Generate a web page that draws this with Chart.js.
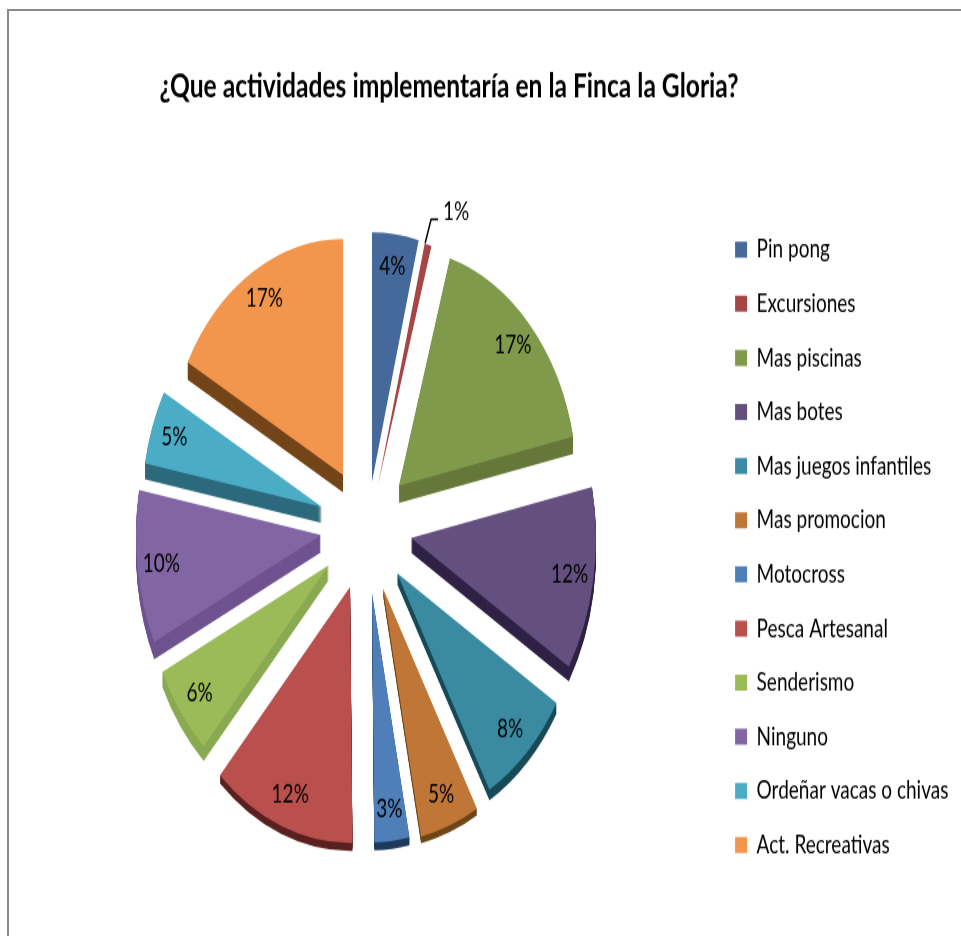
<!DOCTYPE html>
<html><head><meta charset="utf-8">
<script src="https://cdn.jsdelivr.net/npm/chart.js@4/dist/chart.umd.min.js"></script>
<style>
html,body{margin:0;padding:0;background:#fff;overflow:hidden;width:961px;height:936px}
#frame{position:absolute;left:7px;top:9px;width:960px;height:930px;border-top:2px solid #8a8a8a;border-left:2px solid #8a8a8a;box-sizing:border-box}
#stretch{position:absolute;left:0;top:0;width:961px;height:702px;transform:scale(1,1.3333);transform-origin:0 0}
</style></head><body>
<div id="frame"></div>
<div id="stretch"><canvas id="c" width="961" height="702"></canvas></div>
<script>
const titleText = '¿Que actividades implementaría en la Finca la Gloria?';
const categories = ['Pin pong','Excursiones','Mas piscinas','Mas botes','Mas juegos infantiles','Mas promocion','Motocross','Pesca Artesanal','Senderismo','Ninguno','Ordeñar vacas o chivas','Act. Recreativas'];
const percentages = [4,0.6,17,12,8,5,3,12,6,10,5,17];
const sliceColors = ['#44699a','#a54644','#7f9a4b','#64507f','#3a8ba1','#c07636','#4f7fb9','#b9504e','#9bbb59','#8166a3','#4bacc6','#f2964d'];
const sideColors = ['#34507a','#7c3230','#66783a','#2f2245','#174a56','#6e4618','#1e3a5c','#5a2020','#8aaa52','#6f5390','#2c6a7c','#734519'];
const sideDepths = [0,0,13,11,8,5,6,6,11,13,12,13];
const sliceRadii = [187,187,178,185,187,190,187,192,185,185,180,177];
const explodeX = [6,12,33,45,31,17,6,-16,-37,-45,-44,-23];
const explodeY = [-43,-40.5,-40,-0.75,25.5,37,40.5,36,19.5,-3,-24,-48];
const labelFraction = 0.87;
const centerX = 366;
const total = percentages.reduce((s,v)=>s+v,0);

const explodedPie = {
  id:'explodedPie',
  beforeDatasetDraw(chart){
    const ctx = chart.ctx, arcs = chart.getDatasetMeta(0).data;
    arcs.forEach((a,i)=>{ a.x = centerX; a.outerRadius = sliceRadii[i]; });
    arcs.forEach((a,i)=>{
      const base = a.options;
      a.options = Object.assign({}, base, {backgroundColor:sideColors[i], borderColor:sideColors[i]});
      for(let d=sideDepths[i]; d>0; d--){
        ctx.save(); ctx.translate(explodeX[i],explodeY[i]+d); a.draw(ctx); ctx.restore();
      }
      a.options = base;
    });
    arcs.forEach((a,i)=>{ ctx.save(); ctx.translate(explodeX[i],explodeY[i]); a.draw(ctx); ctx.restore(); });
    return false;
  },
  afterDatasetsDraw(chart){
    const ctx = chart.ctx, arcs = chart.getDatasetMeta(0).data;
    ctx.save();
    ctx.font = '19px Lato'; ctx.fillStyle = '#000'; ctx.textAlign='center'; ctx.textBaseline='middle';
    arcs.forEach((a,i)=>{
      const m=(a.startAngle+a.endAngle)/2, txt=Math.round(percentages[i]/total*100)+'%';
      if(i===1){
        const ox=a.x+explodeX[i]+Math.cos(m)*a.outerRadius, oy=a.y+explodeY[i]+Math.sin(m)*a.outerRadius;
        ctx.strokeStyle='#000'; ctx.lineWidth=1.5;
        ctx.beginPath(); ctx.moveTo(ox-3,oy-1); ctx.lineTo(ox+3,oy-19); ctx.lineTo(ox+10,oy-19); ctx.stroke();
        ctx.fillText(txt, ox+28, oy-25);
      } else {
        const r=a.outerRadius*labelFraction;
        ctx.fillText(txt, a.x+explodeX[i]+Math.cos(m)*r, a.y+explodeY[i]+Math.sin(m)*r);
      }
    });
    ctx.restore();
  },
  afterLayout(chart){
    chart.titleBlock.left = 0; chart.titleBlock.right = 898;
    const lg = chart.legend;
    lg.top += 65; lg.bottom += 65;
    const w = lg.right - lg.left;
    lg.left = 713.5; lg.right = 713.5 + w;
  }
};

new Chart(document.getElementById('c'),{
  type:'pie',
  data:{labels:categories,datasets:[{data:percentages,backgroundColor:sliceColors,borderWidth:0,radius:186}]},
  plugins:[explodedPie],
  options:{
    responsive:false,animation:false,
    layout:{padding:{left:7,right:8,top:0,bottom:11}},
    plugins:{
      tooltip:{enabled:false},
      title:{display:true,text:titleText,color:'#000',font:{family:'Lato',size:24.6,weight:'bold'},padding:{top:50,bottom:38}},
      legend:{position:'right',labels:{color:'#000',font:{family:'Lato',size:19},boxWidth:12,boxHeight:12,padding:21.6}}
    }
  }
});
</script></body></html>
